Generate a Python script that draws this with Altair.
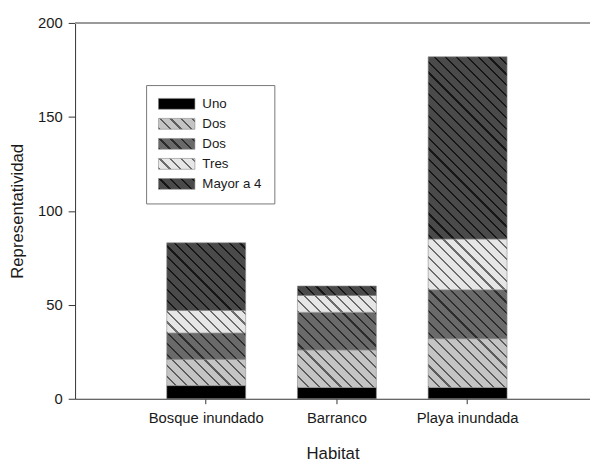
import math
import altair as alt

# ---------------- data ----------------
categories = ["Bosque inundado", "Barranco", "Playa inundada"]
series = ["Uno", "Dos", "Dos (2)", "Tres", "Mayor a 4"]
uno = [7, 6, 6]
dos_a = [14, 20, 26]
dos_b = [14, 20, 26]
tres = [12, 9, 27]
mayor = [36, 5, 97]
values = [uno, dos_a, dos_b, tres, mayor]

# ---------------- styles ----------------
FONT = "Liberation Sans"
TEXT = "#1a1a1a"
W, H = 522, 381
YMAX = 200
K = H / YMAX          # px per unit (for hatch geometry only)
BW = 80.0             # bar bandwidth in px (from band scale below)
PERIOD, LINEW = 11.0, 2.2

styles = {
    "Uno": ("#000000", "#000000"),
    "Dos": ("#c4c4c4", "#5c5c5c"),
    "Dos (2)": ("#6a6a6a", "#2c2c2c"),
    "Tres": ("#e6e6e6", "#6c6c6c"),
    "Mayor a 4": ("#4a4a4a", "#161616"),
}


def hatch(base, line, w, h, phase):
    if base == line or h <= 0:
        return base
    L = w + h
    D = w * w + h * h
    x2 = w * L / D
    y2 = 1 - h * L / D
    stops = []
    n = math.floor((phase - LINEW) / PERIOD)
    while n * PERIOD < phase + L:
        a = (n * PERIOD - phase) / L
        b = (n * PERIOD + LINEW - phase) / L
        n += 1
        if b <= 0 or a >= 1:
            continue
        a, b = max(a, 0.0), min(b, 1.0)
        stops += [(a, base), (a, line), (b, line), (b, base)]
    if not stops or stops[0][0] > 0:
        stops.insert(0, (0.0, base))
    if stops[-1][0] < 1:
        stops.append((1.0, base))
    return {
        "gradient": "linear",
        "x1": 0, "y1": 1, "x2": round(x2, 5), "y2": round(y2, 5),
        "stops": [{"offset": round(o, 5), "color": c} for o, c in stops],
    }


def to_js(o):
    if isinstance(o, dict):
        return "{" + ",".join(f"{k}:{to_js(v)}" for k, v in o.items()) + "}"
    if isinstance(o, list):
        return "[" + ",".join(to_js(v) for v in o) + "]"
    if isinstance(o, str):
        return "'" + o + "'"
    return repr(o)


rows = []
for i, cat in enumerate(categories):
    start = 0
    for j, s in enumerate(series):
        v = values[j][i]
        base, line = styles[s]
        rows.append({
            "Habitat": cat, "Serie": s, "orden": j,
            "Representatividad": v, "inicio": start, "fin": start + v,
            "relleno": hatch(base, line, BW, v * K, start * K),
        })
        start += v

data = alt.Data(values=rows)

legend_range = [
    {"expr": to_js(hatch(styles[s][0], styles[s][1], 37, 11, 0.0))} for s in series
]

x_enc = alt.X(
    "Habitat:N", sort=categories,
    scale=alt.Scale(paddingInner=0.3962, paddingOuter=0.668, align=0.525),
    axis=alt.Axis(
        title="Habitat", labelAngle=0, tickSize=5, labelPadding=7,
        labelFontSize=15, titleFontSize=17, titleFontWeight="normal",
        titleBaseline="middle", titleY=56,
    ),
)
y_enc = alt.Y(
    "inicio:Q", scale=alt.Scale(domain=[0, YMAX], nice=False),
    axis=alt.Axis(
        title="Representatividad", values=[0, 50, 100, 150, 200], tickSize=7,
        labelPadding=6, labelFontSize=15, titleFontSize=17,
        titleFontWeight="normal", titleX=-58, titleY=H / 2,
        titleBaseline="middle", titleAlign="center", titleAngle=270,
    ),
)

bars = alt.Chart(data).mark_bar(stroke="#8a8a8a", strokeWidth=0.6).encode(
    x=x_enc, y=y_enc, y2="fin:Q",
    fill=alt.Fill("relleno:N", scale=None, legend=None),
)

legend_layer = alt.Chart(data).transform_filter("false").mark_bar().encode(
    x=alt.X("Habitat:N", sort=categories),
    y=alt.Y("inicio:Q"),
    y2="fin:Q",
    color=alt.Color(
        "Serie:N",
        scale=alt.Scale(domain=series, range=legend_range),
        legend=alt.Legend(
            title=None, orient="none", legendX=72, legendY=63,
            direction="vertical",
            symbolType="M-1,-0.2973H1V0.2973H-1Z", symbolSize=1369,
            symbolStrokeColor="#8a8a8a", symbolStrokeWidth=0.6,
            symbolOpacity=1, clipHeight=14, rowPadding=6.3,
            labelFont=FONT, labelFontSize=13.5, labelColor=TEXT,
            labelOffset=7, padding=12, strokeColor="#777777",
            fillColor="white", cornerRadius=0,
            labelExpr="datum.label == 'Dos (2)' ? 'Dos' : datum.label",
        ),
    ),
)

top_line = alt.Chart(data).mark_rule(color="#9a9a9a", strokeWidth=1.6).encode(
    y=alt.datum(YMAX)
)

chart = (
    alt.layer(bars, legend_layer, top_line)
    .properties(
        width=W, height=H,
        autosize=alt.AutoSizeParams(type="none"),
        padding={"left": 68, "top": 12, "right": 0, "bottom": 63},
    )
    .configure_view(stroke=None)
    .configure_axis(
        grid=False, labelFont=FONT, titleFont=FONT, labelColor=TEXT,
        titleColor=TEXT, domainColor="#333333", tickColor="#333333",
        domainWidth=1, tickWidth=1,
    )
)

chart.save("out.html", embed_options={"renderer": "svg", "actions": False})
